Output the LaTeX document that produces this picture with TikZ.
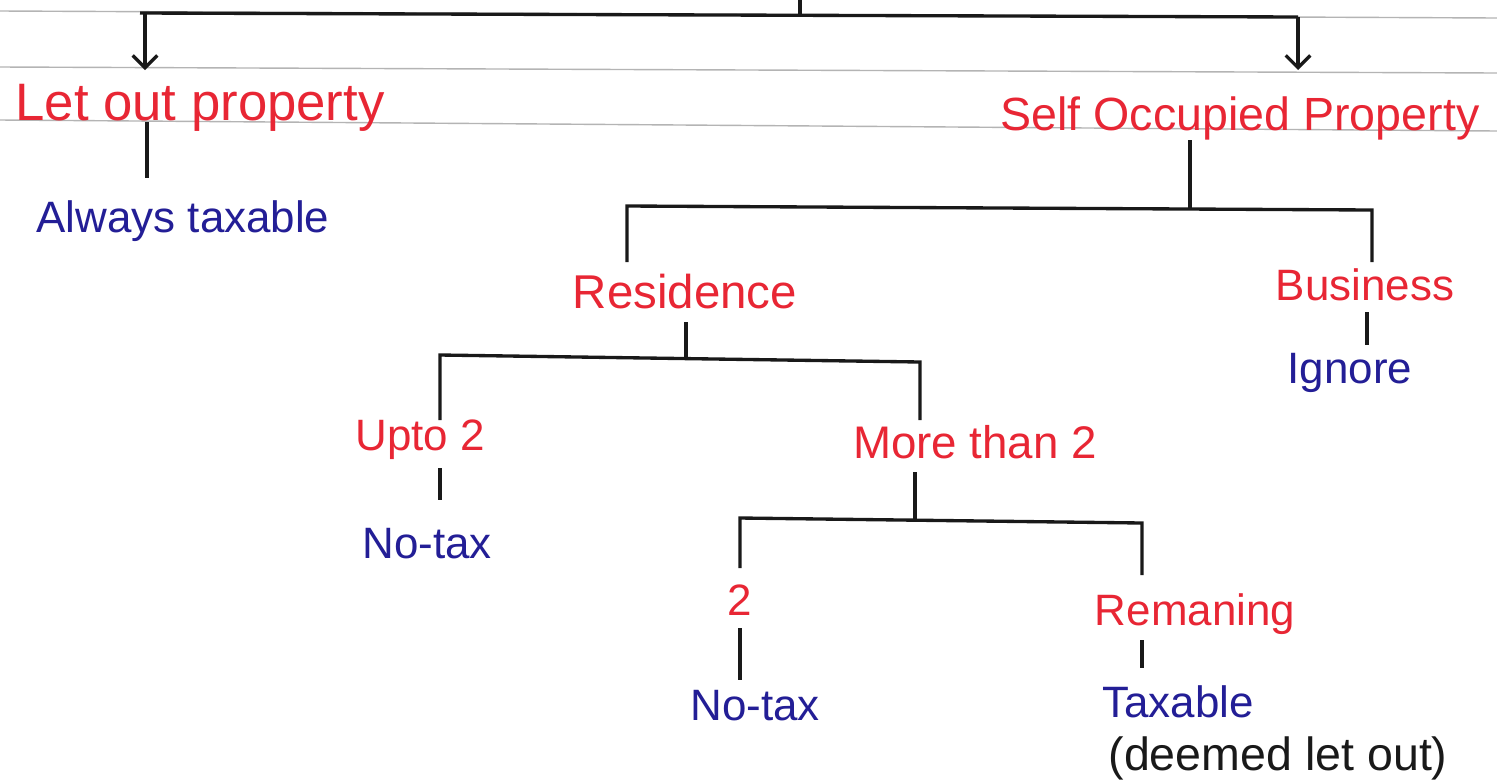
\documentclass[tikz,border=0pt]{standalone}
\usepackage{fontspec}
\setmainfont{Liberation Sans}
\usetikzlibrary{arrows.meta}
\definecolor{inkred}{RGB}{232,38,52}
\definecolor{inkblue}{RGB}{35,30,150}
\definecolor{inkblack}{RGB}{25,25,25}
\definecolor{ruled}{RGB}{180,180,180}
\begin{document}
\begin{tikzpicture}[x=0.02cm,y=-0.02cm,
  conn/.style={line width=1.9pt,inkblack},
  arr/.style={conn,-{Straight Barb[length=7pt,width=14pt,line width=1.9pt]}},
  head/.style={text=inkred,font=\fontsize{25}{28}\selectfont,inner sep=0pt,anchor=base},
  leaf/.style={text=inkblue,font=\fontsize{25}{28}\selectfont,inner sep=0pt,anchor=base},
  note/.style={text=inkblack,font=\fontsize{26.5}{30}\selectfont,inner sep=0pt,anchor=base},
  ruleline/.style={ruled,line width=0.8pt}]
\useasboundingbox (0,0) rectangle (1497,782);
\fill[white] (0,0) rectangle (1497,782);
% paper ruling
\draw[ruleline] (0,11) -- (1497,18);
\draw[ruleline] (0,67) -- (1497,73);
\draw[ruleline] (0,120) -- (1497,131);

% texts
\node[head,font=\fontsize{30}{34}\selectfont] (lop) at (200,120) {Let out property};
\node[leaf] (at) at (183,232) {Always taxable};
\node[head,font=\fontsize{26.5}{30}\selectfont] (sop) at (1240,130) {Self Occupied Property};
\node[head,font=\fontsize{27}{30}\selectfont] (res) at (685,308) {Residence};
\node[head] (bus) at (1365,300) {Business};
\node[leaf] (ign) at (1350,383) {Ignore};
\node[head] (upto) at (420,450) {Upto 2};
\node[head,font=\fontsize{26}{30}\selectfont] (mt2) at (975,458) {More than 2};
\node[leaf] (nt1) at (427,558) {No-tax};
\node[head] (two) at (740,615) {2};
\node[head] (rem) at (1195,625) {Remaning};
\node[leaf] (nt2) at (755,720) {No-tax};
\node[leaf] (tax) at (1178,717) {Taxable};
\node[note] (deem) at (1278,770) {(deemed let out)};

% junction coordinates
\coordinate (stem) at (800,0);
\coordinate (jtop) at (800,16);
\coordinate (tl) at (140,13);
\coordinate (tlx) at (145,13);
\coordinate (tr) at (1298,17);
\coordinate (la) at (145,70);
\coordinate (ra) at (1298,70);
\coordinate (lop1) at (147,122);
\coordinate (at1) at (147,178);
\coordinate (sop1) at (1190,140);
\coordinate (sopj) at (1190,208);
\coordinate (b1l) at (627,206);
\coordinate (b1r) at (1372,210);
\coordinate (res1) at (627,262);
\coordinate (bus1) at (1372,262);
\coordinate (bus2) at (1367,312);
\coordinate (ign1) at (1367,345);
\coordinate (res2) at (686,322);
\coordinate (resj) at (686,358);
\coordinate (b2l) at (440,355);
\coordinate (b2r) at (920,362);
\coordinate (upto1) at (440,420);
\coordinate (mt21) at (920,420);
\coordinate (upto2) at (440,468);
\coordinate (nt11) at (440,500);
\coordinate (mt22) at (915,472);
\coordinate (mt2j) at (915,521);
\coordinate (b3l) at (740,518);
\coordinate (b3r) at (1142,523);
\coordinate (two1) at (740,568);
\coordinate (rem1) at (1142,575);
\coordinate (two2) at (740,628);
\coordinate (nt21) at (740,680);
\coordinate (rem2) at (1142,640);
\coordinate (tax1) at (1142,668);

% connectors
\draw[conn] (stem) -- (jtop);
\draw[conn] (tl) -- (tr);
\draw[arr] (tlx) -- (la);
\draw[arr] (tr) -- (ra);
\draw[conn] (lop1) -- (at1);
\draw[conn] (sop1) -- (sopj);
\draw[conn] (res1) -- (b1l) -- (b1r) -- (bus1);
\draw[conn] (bus2) -- (ign1);
\draw[conn] (res2) -- (resj);
\draw[conn] (upto1) -- (b2l) -- (b2r) -- (mt21);
\draw[conn] (upto2) -- (nt11);
\draw[conn] (mt22) -- (mt2j);
\draw[conn] (two1) -- (b3l) -- (b3r) -- (rem1);
\draw[conn] (two2) -- (nt21);
\draw[conn] (rem2) -- (tax1);
\end{tikzpicture}
\end{document}
